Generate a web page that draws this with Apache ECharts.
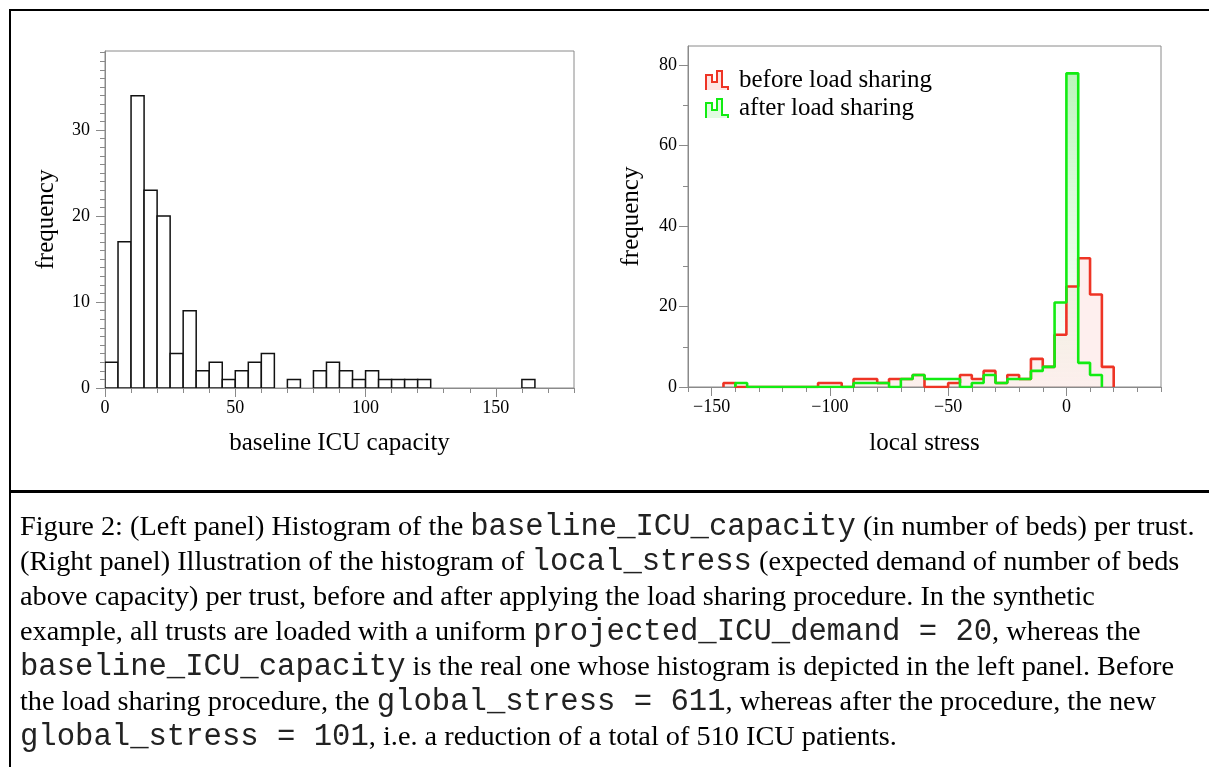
<!DOCTYPE html>
<html>
<head>
<meta charset="utf-8">
<script src="https://cdn.jsdelivr.net/npm/echarts@6/dist/echarts.min.js"></script>
<style>
  html, body { margin:0; padding:0; background:#fff; width:1209px; height:767px; overflow:hidden; }
  #chart { position:absolute; left:0; top:0; width:1209px; height:767px; }
  .frame { position:absolute; left:9px; top:9px; width:1400px; height:1000px; border:2px solid #000; box-sizing:border-box; }
  .divider { position:absolute; left:9px; top:490px; width:1400px; height:2.5px; background:#000; }
  .cap { position:absolute; left:20px; font-family:'Liberation Serif', serif; font-size:28.3px; line-height:35px; white-space:pre; color:#000; }
  .cap .m { font-family:'Liberation Mono', monospace; font-size:30.6px; color:#222; }
</style>
</head>
<body>
<div id="chart"></div>
<div class="frame"></div>
<div class="divider"></div>
<div id="caption"></div>
<script>
// ---------------- data ----------------
// Left panel: histogram of baseline ICU capacity (bins of width 5 starting at 0)
const capBinStart = 0;
const capBinWidth = 5;
const capCounts = [3,17,34,23,20,4,9,2,3,1,2,3,4,0,1,0,2,3,2,1,2,1,1,1,1,0,0,0,0,0,0,0,1];

// Right panel: histogram of local stress (bins of width 5 starting at -145)
const stressBinStart = -145;
const stressBinWidth = 5;
const beforeCounts = [1,0,0,0,0,0,0,0,1,1,0,2,2,1,2,2,3,0,0,1,3,2,4,1,3,2,7,5,13,25,32,23,5];
const afterCounts  = [0,1,0,0,0,0,0,0,0,0,0,1,1,1,0,2,3,2,2,2,0,1,3,1,2,2,4,5,21,78,6,3,0];

// Axis ticks / labels
const capXTicks = [0, 50, 100, 150];
const capYTicks = [0, 10, 20, 30];
const stressXTicks = [-150, -100, -50, 0];
const stressYTicks = [0, 20, 40, 60, 80];
const seriesNames = ['before load sharing', 'after load sharing'];

// Caption lines: [text, isMono] fragments
const captionLines = [
  [['Figure 2: (Left panel) Histogram of the ',0],['baseline_ICU_capacity',1],[' (in number of beds) per trust.',0]],
  [['(Right panel) Illustration of the histogram of ',0],['local_stress',1],[' (expected demand of number of beds',0]],
  [['above capacity) per trust, before and after applying the load sharing procedure. In the synthetic',0]],
  [['example, all trusts are loaded with a uniform ',0],['projected_ICU_demand = 20',1],[', whereas the',0]],
  [['baseline_ICU_capacity',1],[' is the real one whose histogram is depicted in the left panel. Before',0]],
  [['the load sharing procedure, the ',0],['global_stress = 611',1],[', whereas after the procedure, the new',0]],
  [['global_stress = 101',1],[', i.e. a reduction of a total of 510 ICU patients.',0]]
];

// ---------------- helpers ----------------
function range(a, b, step) { const r = []; for (let v = a; v <= b + 1e-9; v += step) r.push(Math.round(v * 1000) / 1000); return r; }
function stepPoints(start, width, counts) {
  let first = counts.findIndex(c => c > 0);
  let last = counts.length - 1;
  while (last > 0 && counts[last] === 0) last--;
  const pts = [[start + first * width, 0]];
  for (let i = first; i <= last; i++) pts.push([start + i * width, counts[i]]);
  pts.push([start + (last + 1) * width, 0]);
  return pts;
}
const capBars = [];
capCounts.forEach((c, i) => { if (c > 0) capBars.push([capBinStart + i * capBinWidth, capBinStart + (i + 1) * capBinWidth, c]); });

const SERIF = 'Liberation Serif';
const GRAY = '#8a8a8a';
const RED = '#ee3425';
const GREEN = '#12ec12';
const NAME_SIZE = 25;
const minus = v => (v < 0 ? '\u2212' + Math.abs(v) : String(v));

function majorX(grid, min, max, ticks, name, gap) {
  return {
    type: 'value', gridIndex: grid, min: min, max: max, position: 'bottom',
    name: name, nameLocation: 'middle', nameGap: gap,
    nameTextStyle: { fontFamily: SERIF, fontSize: NAME_SIZE, color: '#000' },
    axisLine: { show: true, onZero: false, lineStyle: { color: GRAY, width: 1 } },
    axisTick: { show: true, length: 9, lineStyle: { color: GRAY }, customValues: ticks },
    axisLabel: { show: true, customValues: ticks, margin: 11, fontFamily: SERIF, fontSize: 18, color: '#000', formatter: minus },
    splitLine: { show: false }
  };
}
function minorX(grid, min, max, step) {
  return {
    type: 'value', gridIndex: grid, min: min, max: max, position: 'bottom',
    axisLine: { show: false, onZero: false },
    axisTick: { show: true, length: 5, lineStyle: { color: GRAY }, customValues: range(min, max, step) },
    axisLabel: { show: false }, splitLine: { show: false }
  };
}
function majorY(grid, min, max, ticks, gap, margin) {
  return {
    type: 'value', gridIndex: grid, min: min, max: max, position: 'left',
    name: 'frequency', nameLocation: 'middle', nameGap: gap, nameRotate: 90,
    nameTextStyle: { fontFamily: SERIF, fontSize: NAME_SIZE, color: '#000' },
    axisLine: { show: true, onZero: false, lineStyle: { color: GRAY, width: 1 } },
    axisTick: { show: true, length: 9, lineStyle: { color: GRAY }, customValues: ticks },
    axisLabel: { show: true, customValues: ticks, margin: margin, fontFamily: SERIF, fontSize: 18, color: '#000' },
    splitLine: { show: false }
  };
}
function minorY(grid, min, max, ticks) {
  return {
    type: 'value', gridIndex: grid, min: min, max: max, position: 'left',
    axisLine: { show: false, onZero: false },
    axisTick: { show: true, length: 5, lineStyle: { color: GRAY }, customValues: ticks },
    axisLabel: { show: false }, splitLine: { show: false }
  };
}

const chart = echarts.init(document.getElementById('chart'), null, { renderer: 'canvas' });
const legendIcon = 'path://M0,20 L0,5 L6,5 L6,12 L11,12 L11,1 L16,1 L16,17 L22,17 L22,20';

chart.setOption({
  animation: false,
  backgroundColor: 'transparent',
  grid: [
    { left: 105, top: 51, width: 469, height: 337, show: true, borderColor: GRAY, borderWidth: 1, backgroundColor: 'transparent' },
    { left: 688, top: 46, width: 473, height: 341, show: true, borderColor: GRAY, borderWidth: 1, backgroundColor: 'transparent' }
  ],
  xAxis: [
    majorX(0, 0, 180, capXTicks, 'baseline ICU capacity', 43),
    minorX(0, 0, 180, 10),
    majorX(1, -160, 40, stressXTicks, 'local stress', 44),
    minorX(1, -160, 40, 10)
  ],
  yAxis: [
    majorY(0, 0, 39.2, capYTicks, 46, 15),
    minorY(0, 0, 39.2, range(0, 39, 1)),
    majorY(1, 0, 84.8, stressYTicks, 44, 11),
    minorY(1, 0, 84.8, range(0, 80, 10))
  ],
  legend: {
    orient: 'vertical', left: 705, top: 68, padding: 0,
    itemWidth: 22, itemHeight: 19, itemGap: 3,
    textStyle: { fontFamily: SERIF, fontSize: 25, color: '#000', padding: [0, 0, 0, 6] },
    data: [
      { name: seriesNames[0], icon: legendIcon, itemStyle: { color: 'rgba(245,80,70,0.15)', borderColor: RED, borderWidth: 2 } },
      { name: seriesNames[1], icon: legendIcon, itemStyle: { color: 'rgba(60,230,60,0.15)', borderColor: GREEN, borderWidth: 2 } }
    ]
  },
  series: [
    {
      type: 'custom', xAxisIndex: 0, yAxisIndex: 0, data: capBars,
      encode: { x: [0, 1], y: 2 }, clip: true,
      renderItem: function (params, api) {
        const p0 = api.coord([api.value(0), api.value(2)]);
        const p1 = api.coord([api.value(1), 0]);
        return { type: 'rect', shape: { x: p0[0], y: p0[1], width: p1[0] - p0[0], height: p1[1] - p0[1] },
                 style: { fill: '#fff', stroke: '#111', lineWidth: 1.5 } };
      }
    },
    {
      name: seriesNames[0], type: 'line', xAxisIndex: 2, yAxisIndex: 2, step: 'end', symbol: 'none',
      data: stepPoints(stressBinStart, stressBinWidth, beforeCounts),
      itemStyle: { color: RED },
      lineStyle: { color: RED, width: 2.6 },
      areaStyle: { color: 'rgba(245,80,70,0.13)' }
    },
    {
      name: seriesNames[1], type: 'line', xAxisIndex: 2, yAxisIndex: 2, step: 'end', symbol: 'none',
      data: stepPoints(stressBinStart, stressBinWidth, afterCounts),
      itemStyle: { color: GREEN },
      lineStyle: { color: GREEN, width: 2.6 },
      areaStyle: { color: new echarts.graphic.LinearGradient(0, 0, 0, 1, [
        { offset: 0, color: 'rgba(40,220,40,0.45)' },
        { offset: 1, color: 'rgba(140,255,140,0.02)' }
      ]) }
    }
  ]
});

// caption
const capDiv = document.getElementById('caption');
captionLines.forEach((frags, k) => {
  const d = document.createElement('div');
  d.className = 'cap';
  d.style.top = (535 + 35 * k - 27) + 'px';
  frags.forEach(f => {
    const s = document.createElement('span');
    if (f[1]) s.className = 'm';
    s.textContent = f[0];
    d.appendChild(s);
  });
  capDiv.appendChild(d);
});
</script>
</body>
</html>
